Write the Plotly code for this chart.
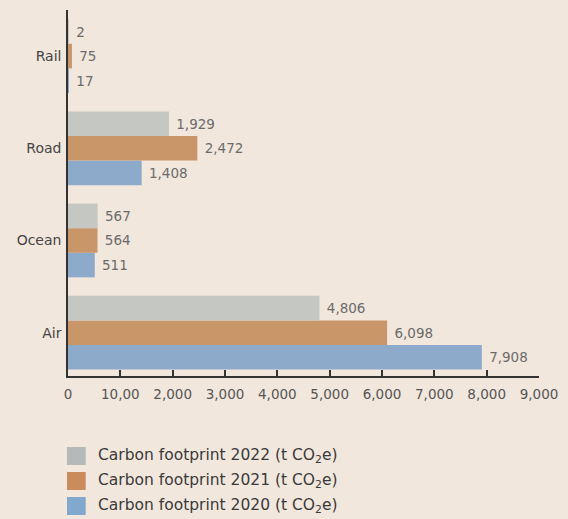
import plotly.graph_objects as go

categories = ["Air", "Ocean", "Road", "Rail"]
values_2020 = [7908, 511, 1408, 17]
values_2021 = [6098, 564, 2472, 75]
values_2022 = [4806, 567, 1929, 2]
series_names = [
    "Carbon footprint 2020 (t CO<sub>2</sub>e)",
    "Carbon footprint 2021 (t CO<sub>2</sub>e)",
    "Carbon footprint 2022 (t CO<sub>2</sub>e)",
]
tick_values = [0, 1000, 2000, 3000, 4000, 5000, 6000, 7000, 8000, 9000]
tick_labels = ["0", "10,00", "2,000", "3,000", "4,000", "5,000", "6,000", "7,000", "8,000", "9,000"]

colors = ["#8eaacb", "#c9966a", "#c5c7c2"]
legend_colors = ["#82a9cd", "#c98c5a", "#b3bab7"]
BG = "#f2e7dd"
FONT = "'DejaVu Sans', sans-serif"

fig = go.Figure()
for vals, name, col in zip([values_2020, values_2021, values_2022], series_names, colors):
    fig.add_trace(go.Bar(
        y=list(range(len(categories))), x=vals, orientation="h", name=name,
        marker=dict(color=col, line=dict(width=0)),
        text=["\u00a0" + f"{v:,}" for v in vals], textposition="outside",
        textfont=dict(family=FONT, size=13.5, color="#6b6b6b"),
        cliponaxis=False, showlegend=False,
    ))

# manual legend (top entry = 2022)
legend_y0 = 447
for i, (name, col) in enumerate(zip(series_names[::-1], legend_colors[::-1])):
    top = legend_y0 + i * 25
    fig.add_shape(type="rect", xref="paper", yref="paper",
                  x0=-1 / 479, x1=18 / 479, y0=(376 - top) / 366, y1=(376 - top - 18) / 366,
                  fillcolor=col, line=dict(width=0))
    fig.add_annotation(xref="paper", yref="paper", x=28 / 479, y=(376 - top - 9) / 366,
                       text=name, showarrow=False, xanchor="left", yanchor="middle",
                       font=dict(family=FONT, size=15.5, color="#3a3a3a"))

fig.update_layout(
    width=568, height=519,
    margin=dict(l=68, r=21, t=10, b=143),
    paper_bgcolor=BG, plot_bgcolor=BG,
    barmode="group", bargap=0.2, bargroupgap=0,
    font=dict(family=FONT, color="#444"),
)
fig.update_xaxes(
    range=[0, 9000], tickvals=tick_values, ticktext=tick_labels,
    showgrid=False, zeroline=False, showline=True, linecolor="#333", linewidth=1.5,
    ticks="inside", ticklen=6, tickwidth=1.5, tickcolor="#333", ticklabelstandoff=5,
    tickfont=dict(family=FONT, size=13.5, color="#555"), layer="below traces",
)
fig.update_yaxes(
    range=[-0.47, 3.5], tickvals=list(range(len(categories))), ticktext=categories,
    showgrid=False, zeroline=False, showline=True, linecolor="#333", linewidth=1.5,
    ticks="", ticklabelstandoff=2,
    tickfont=dict(family=FONT, size=14, color="#444"), layer="below traces",
)

fig.write_html("out.html")
